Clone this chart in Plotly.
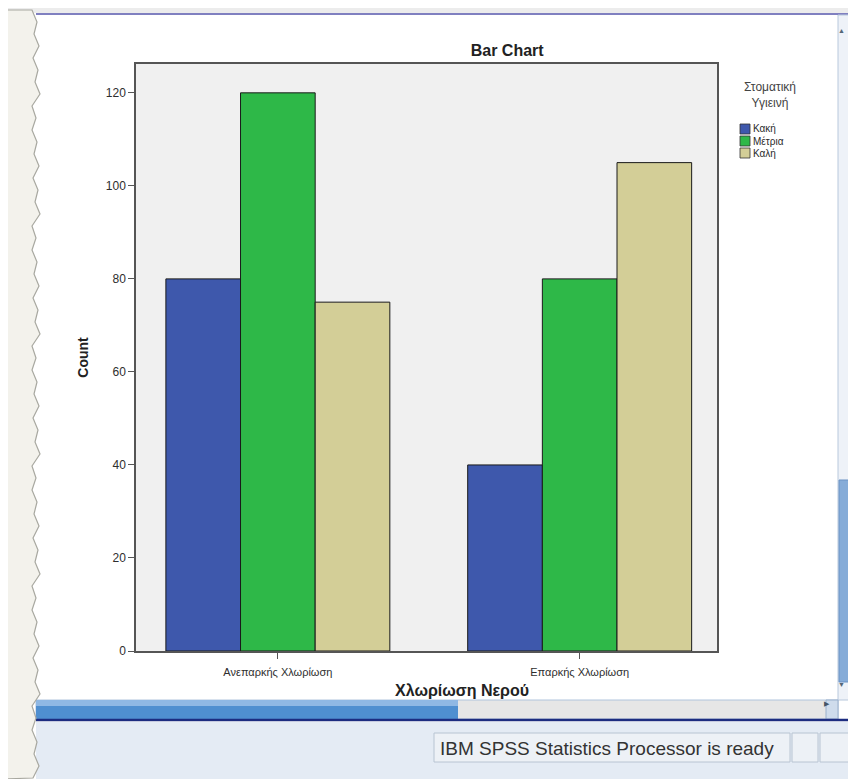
import plotly.graph_objects as go

# ---- data ----
categories = ["Ανεπαρκής Χλωρίωση", "Επαρκής Χλωρίωση"]
series_names = ["Κακή", "Μέτρια", "Καλή"]
values_kakh = [80, 40]
values_metria = [120, 80]
values_kalh = [75, 105]
series_colors = ["#3E58AC", "#2EB848", "#D3CE97"]
y_ticks = [0, 20, 40, 60, 80, 100, 120]

FONT = "Liberation Sans, Arial"
OFF = 8  # page body margin
W, H = 856 - OFF, 779 - OFF
# plot area in page pixels
PL, PR, PT, PB = 136, 717, 64, 651
L, R, T, B = PL - OFF, W - (PR - OFF), PT - OFF, H - (PB - OFF)
PW, PH = W - L - R, H - T - B


def px(x):
    return (x - OFF - L) / PW


def py(y):
    return (H - B - (y - OFF)) / PH


fig = go.Figure()
for name, vals, col in zip(series_names, [values_kakh, values_metria, values_kalh], series_colors):
    fig.add_trace(go.Bar(x=categories, y=vals, name=name,
                         marker=dict(color=col, line=dict(color="#1a1a1a", width=1)),
                         showlegend=False))

shapes = []
annotations = []

# manual legend (SPSS style)
annotations.append(dict(x=px(770), y=py(78), xref="paper", yref="paper", text="Στοματική<br>Υγιεινή",
                        showarrow=False, xanchor="center", yanchor="top", align="center",
                        font=dict(family=FONT, size=12, color="#444444")))
for i, (name, col) in enumerate(zip(series_names, series_colors)):
    yc = 129 + i * 12
    shapes.append(dict(type="rect", xref="paper", yref="paper", x0=px(740), x1=px(750),
                       y0=py(yc - 5), y1=py(yc + 5),
                       fillcolor=col, line=dict(color="#333333", width=0.8)))
    annotations.append(dict(x=px(751), y=py(yc), xref="paper", yref="paper", text=name, showarrow=False,
                            xanchor="left", yanchor="middle",
                            font=dict(family=FONT, size=10, color="#2a2a2a")))

# x-axis title (SPSS centres it on the chart)
annotations.append(dict(x=px(462), y=py(690), xref="paper", yref="paper", text="<b>Χλωρίωση Νερού</b>",
                        showarrow=False, xanchor="center", yanchor="middle",
                        font=dict(family=FONT, size=16, color="#222222")))

# window decoration: top border
shapes.append(dict(type="rect", xref="paper", yref="paper", x0=px(0), x1=px(856), y0=py(0), y1=py(13),
                   fillcolor="#ececec", line=dict(width=0), layer="below"))
shapes.append(dict(type="line", xref="paper", yref="paper", x0=px(36), x1=px(856), y0=py(14), y1=py(14),
                   line=dict(color="#8080c0", width=2)))
# vertical scrollbar
shapes.append(dict(type="rect", xref="paper", yref="paper", x0=px(838), x1=px(856), y0=py(15), y1=py(700),
                   fillcolor="#eef2f8", line=dict(color="#b8c8dc", width=1)))
shapes.append(dict(type="rect", xref="paper", yref="paper", x0=px(839), x1=px(856), y0=py(480), y1=py(682),
                   fillcolor="#86acd8", line=dict(color="#6a92c4", width=1)))
annotations.append(dict(x=px(847), y=py(24), xref="paper", yref="paper", text="▲", showarrow=False,
                        font=dict(size=7, color="#556677")))
annotations.append(dict(x=px(847), y=py(691), xref="paper", yref="paper", text="▼", showarrow=False,
                        font=dict(size=7, color="#556677")))
# horizontal scrollbar
shapes.append(dict(type="rect", xref="paper", yref="paper", x0=px(36), x1=px(838), y0=py(700), y1=py(719),
                   fillcolor="#e6e6e6", line=dict(color="#b0c4dc", width=1)))
shapes.append(dict(type="rect", xref="paper", yref="paper", x0=px(36), x1=px(458), y0=py(700), y1=py(719),
                   fillcolor="#4f8fd0", line=dict(width=0)))
shapes.append(dict(type="rect", xref="paper", yref="paper", x0=px(36), x1=px(458), y0=py(700), y1=py(706),
                   fillcolor="#8fb8e4", line=dict(width=0)))
shapes.append(dict(type="rect", xref="paper", yref="paper", x0=px(826), x1=px(838), y0=py(700), y1=py(719),
                   fillcolor="#cfdcec", line=dict(color="#9ab0cc", width=1)))
annotations.append(dict(x=px(832), y=py(710), xref="paper", yref="paper", text="▶", showarrow=False,
                        font=dict(size=7, color="#445566")))
shapes.append(dict(type="line", xref="paper", yref="paper", x0=px(36), x1=px(856), y0=py(720), y1=py(720),
                   line=dict(color="#1c2c80", width=2.5)))
# status bar
shapes.append(dict(type="rect", xref="paper", yref="paper", x0=px(36), x1=px(856), y0=py(722), y1=py(779),
                   fillcolor="#e4ebf4", line=dict(width=0), layer="below"))
shapes.append(dict(type="rect", xref="paper", yref="paper", x0=px(434), x1=px(790), y0=py(733), y1=py(762),
                   fillcolor="#edf1f6", line=dict(color="#b8c4d2", width=1)))
shapes.append(dict(type="rect", xref="paper", yref="paper", x0=px(792), x1=px(818), y0=py(733), y1=py(762),
                   fillcolor="#edf1f6", line=dict(color="#b8c4d2", width=1)))
shapes.append(dict(type="rect", xref="paper", yref="paper", x0=px(820), x1=px(856), y0=py(733), y1=py(762),
                   fillcolor="#edf1f6", line=dict(color="#b8c4d2", width=1)))
annotations.append(dict(x=px(438), y=py(748), xref="paper", yref="paper",
                        text="IBM SPSS Statistics Processor is ready", showarrow=False,
                        xanchor="left", yanchor="middle",
                        font=dict(family=FONT, size=19, color="#333333")))

# torn left edge
zig = [0, 5, 2, 7, 1, 6, 3, 8, 0, 4]
pts = []
yv = 10
k = 0
while yv <= 779:
    pts.append((32 + zig[k % len(zig)], yv))
    yv += 12
    k += 1
path = "M %f,%f " % (px(0), py(10))
for (xx, yy) in pts:
    path += "L %f,%f " % (px(xx), py(yy))
path += "L %f,%f Z" % (px(0), py(779))
shapes.append(dict(type="path", xref="paper", yref="paper", path=path, fillcolor="#f3f2ec",
                   line=dict(color="#a8a8a0", width=1.2)))

fig.update_layout(
    width=W, height=H,
    margin=dict(l=L, r=R, t=T, b=B),
    paper_bgcolor="white",
    plot_bgcolor="#F0F0F0",
    barmode="group",
    bargap=0.258,
    bargroupgap=0,
    title=dict(text="<b>Bar Chart</b>", x=px(478), xanchor="center", y=1 - (50 - OFF) / H, yanchor="middle",
               font=dict(family=FONT, size=16, color="#222222")),
    xaxis=dict(range=[-0.47, 1.455], showgrid=False, showline=True, linecolor="#555555", linewidth=1.5, mirror=True,
               ticks="outside", ticklen=6, tickcolor="#555555", ticklabelstandoff=4,
               tickfont=dict(family=FONT, size=11, color="#2e2e2e")),
    yaxis=dict(range=[0, 126.2], tickvals=y_ticks, showgrid=False, zeroline=False, showline=True,
               linecolor="#555555", linewidth=1.5, mirror=True, ticks="outside", ticklen=6, tickcolor="#555555",
               tickfont=dict(family=FONT, size=12, color="#2e2e2e"),
               title=dict(text="<b>Count</b>", standoff=14,
                          font=dict(family=FONT, size=14, color="#222222"))),
    shapes=shapes,
    annotations=annotations,
    showlegend=False,
)

fig.write_html("out.html")
